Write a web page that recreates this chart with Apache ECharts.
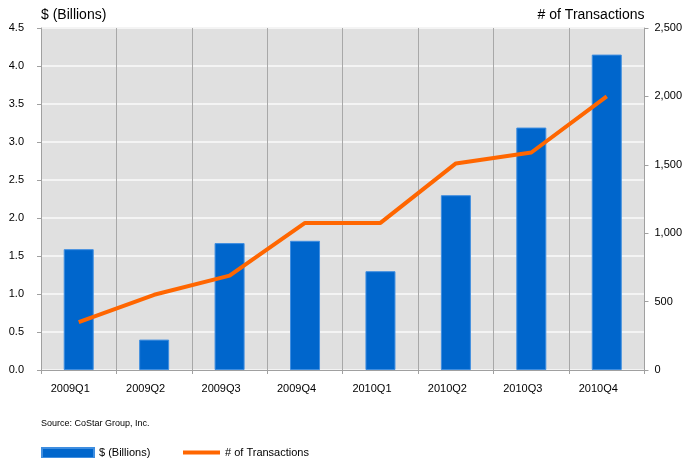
<!DOCTYPE html>
<html>
<head>
<meta charset="utf-8">
<script src="https://cdn.jsdelivr.net/npm/echarts@6/dist/echarts.min.js"></script>
<style>
html, body { margin: 0; padding: 0; background: #fff; }
#container { width: 685px; height: 458px; }
</style>
</head>
<body>
<div id="container"></div>
<script>
var quarters = ['2009Q1', '2009Q2', '2009Q3', '2009Q4', '2010Q1', '2010Q2', '2010Q3', '2010Q4'];
var billions = [1.59, 0.40, 1.67, 1.70, 1.30, 2.30, 3.19, 4.15];
var transactions = [350, 550, 690, 1075, 1075, 1510, 1590, 2000];

var font = 'Arial, "Liberation Sans", sans-serif';

var option = {
    animation: false,
    textStyle: { fontFamily: font },
    grid: { left: 41, right: 39, top: 28, bottom: 88 },
    legend: [{
        data: ['$ (Billions)'],
        left: 36, top: 442,
        itemWidth: 52, itemHeight: 10,
        icon: 'rect',
        textStyle: { fontSize: 11, color: '#000', fontFamily: font }
    }, {
        data: ['# of Transactions'],
        left: 178, top: 442,
        itemWidth: 37, itemHeight: 4,
        icon: 'rect',
        textStyle: { fontSize: 11, color: '#000', fontFamily: font }
    }],
    graphic: [{
        type: 'text',
        left: 41, top: 419,
        style: { text: 'Source: CoStar Group, Inc.', fontSize: 9, fill: '#000', fontFamily: font }
    }],
    xAxis: {
        type: 'category',
        data: quarters,
        boundaryGap: true,
        axisLine: { lineStyle: { color: '#a0a0a0', width: 1 } },
        axisTick: { show: true, length: 4, lineStyle: { color: '#a0a0a0' } },
        axisLabel: { color: '#000', fontSize: 11, margin: 13, padding: [0, 17, 0, 0] },
        splitLine: { show: true, lineStyle: { color: '#a8a8a8', width: 1 } },
        splitArea: { show: false }
    },
    yAxis: [{
        type: 'value',
        min: 0, max: 4.5, interval: 0.5,
        name: '$ (Billions)',
        nameLocation: 'end',
        nameGap: 6,
        nameTextStyle: { align: 'left', fontSize: 14, color: '#000', padding: [0, 0, 0, 0] },
        axisLine: { show: true, lineStyle: { color: '#a0a0a0' } },
        axisTick: { show: true, length: 4, lineStyle: { color: '#a0a0a0' } },
        axisLabel: {
            color: '#000', fontSize: 11, margin: 17,
            formatter: function (v) { return v.toFixed(1); }
        },
        splitLine: { show: true, lineStyle: { color: '#f4f4f4', width: 2 } },
        splitArea: { show: true, areaStyle: { color: ['#e0e0e0', '#e0e0e0'] } }
    }, {
        type: 'value',
        min: 0, max: 2500, interval: 500,
        name: '# of Transactions',
        nameLocation: 'end',
        nameGap: 6,
        nameTextStyle: { align: 'right', fontSize: 14, color: '#000' },
        axisLine: { show: true, lineStyle: { color: '#a0a0a0' } },
        axisTick: { show: true, length: 4, lineStyle: { color: '#a0a0a0' } },
        axisLabel: {
            color: '#000', fontSize: 11, margin: 10,
            formatter: function (v) { return v.toLocaleString('en-US'); }
        },
        splitLine: { show: false }
    }],
    series: [{
        name: '$ (Billions)',
        type: 'bar',
        yAxisIndex: 0,
        data: billions,
        barWidth: 30,
        itemStyle: { color: '#0066cc', borderColor: '#3f8ee0', borderWidth: 1 },
        z: 3
    }, {
        name: '# of Transactions',
        type: 'line',
        yAxisIndex: 1,
        data: transactions,
        symbol: 'none',
        lineStyle: { color: '#ff6600', width: 4 },
        itemStyle: { color: '#ff6600' },
        z: 4
    }]
};

var myChart = echarts.init(document.getElementById('container'));
myChart.setOption(option);
</script>
</body>
</html>
